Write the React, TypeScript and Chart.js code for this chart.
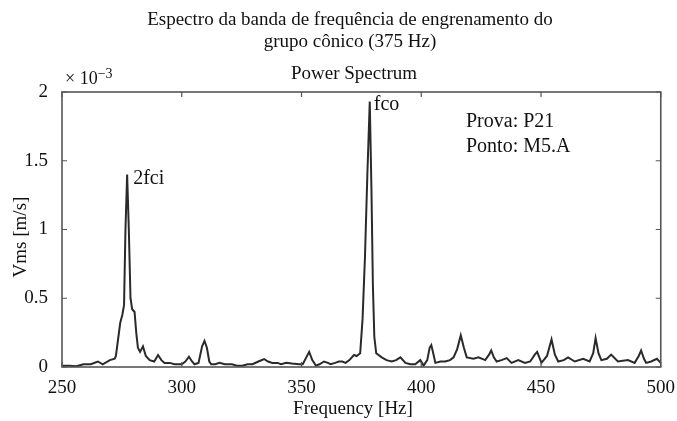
import React, { useEffect, useRef } from "react";
import { Chart, registerables } from "chart.js";

Chart.register(...registerables);

// ---- Data (Vms in units of 1e-3 m/s) ----
const frequencyHz = [
  250, 253, 256, 259, 262, 265, 267, 270, 272, 272.5, 273.4, 274.3, 275.2, 275.9, 276.5, 277.2, 277.9,
  278.6, 279.3, 280.3, 281, 281.7, 282.6, 283.8, 285, 286.6, 288.5, 290.1, 291.5, 292.8, 295, 297, 300,
  301.5, 303, 304.3, 305.3, 307, 308.5, 309.5, 310.5, 311.5, 312.3, 314, 315.7, 318, 321, 323, 325.3,
  327.5, 329.5, 332, 334.4, 336, 337.8, 340, 341.5, 343.6, 346, 349, 350.5, 352, 353.2, 354.5, 356,
  357.5, 359.4, 361, 362.2, 364, 365.6, 367, 368.4, 370, 371.9, 373, 374.5, 375.5, 376.5, 377.5, 378.5,
  379.2, 379.8, 380.4, 381.2, 383.5, 385.5, 387.7, 389.5, 391.3, 393.4, 395.5, 397.5, 399.6,
  401, 402.5, 403.5, 404.2, 405, 405.9, 408, 410, 412, 413.5, 415, 416.5, 417.8, 419, 421.8, 423.9,
  426.7, 428.3, 429.2, 430.3, 431.5, 433.5, 435.7, 437.7, 440.5, 443.3, 445.5, 447.4, 448.4, 449.3,
  450.2, 452.5, 454.4, 455.8, 457.2, 459.5, 461.3, 464.1, 467.6, 470.3, 471.8, 472.8, 474, 475.2,
  477.5, 479.3, 482.1, 486.3, 489.1, 490.8, 491.8, 493, 493.9, 496, 498.4, 500,
];
const vmsE3 = [
  0.01, 0.01, 0.005, 0.02, 0.02, 0.04, 0.02, 0.05, 0.06, 0.08, 0.2, 0.32, 0.38, 0.45, 1.0, 1.4, 1.0,
  0.5, 0.42, 0.4, 0.25, 0.14, 0.11, 0.15, 0.08, 0.05, 0.04, 0.087, 0.05, 0.03, 0.03, 0.02, 0.02,
  0.04, 0.075, 0.04, 0.02, 0.03, 0.15, 0.19, 0.14, 0.04, 0.02, 0.02, 0.03, 0.02, 0.02, 0.01, 0.01,
  0.02, 0.02, 0.04, 0.058, 0.04, 0.03, 0.03, 0.02, 0.03, 0.025, 0.02, 0.02, 0.07, 0.11, 0.05, 0.01,
  0.02, 0.04, 0.03, 0.02, 0.03, 0.04, 0.04, 0.03, 0.05, 0.087, 0.08, 0.1, 0.35, 0.8, 1.4, 1.93,
  1.3, 0.6, 0.22, 0.1, 0.07, 0.05, 0.04, 0.05, 0.07, 0.03, 0.02, 0.02, 0.05,
  0.01, 0.05, 0.14, 0.16, 0.1, 0.03, 0.04, 0.04, 0.05, 0.07, 0.13, 0.23, 0.14, 0.07, 0.06, 0.07,
  0.05, 0.09, 0.12, 0.07, 0.04, 0.05, 0.065, 0.03, 0.05, 0.03, 0.04, 0.09, 0.11, 0.07,
  0.03, 0.08, 0.2, 0.09, 0.04, 0.05, 0.07, 0.04, 0.06, 0.04, 0.1, 0.21, 0.1, 0.05,
  0.06, 0.09, 0.04, 0.05, 0.03, 0.08, 0.12, 0.06, 0.03, 0.04, 0.06, 0.03,
];

const xTicks = [250, 300, 350, 400, 450, 500];
const yTicks = [0, 0.5, 1, 1.5, 2];
const titleLines = ["Espectro da banda de frequência de engrenamento do", "grupo cônico (375 Hz)"];
const subtitleText = "Power Spectrum";
const xAxisLabel = "Frequency [Hz]";
const yAxisLabel = "Vms [m/s]";
const exponentBase = "× 10";
const exponentPower = "−3";
const peakNames = ["2fci", "fco"];
const peakFreqs = [277.2, 378.5];
const peakValues = [1.4, 1.93];
const infoLines = ["Prova: P21", "Ponto: M5.A"];

const FONT = "'Liberation Serif', 'Times New Roman', serif";

const decorPlugin = {
  id: "decor",
  afterDraw(chart: any) {
    const { ctx, chartArea } = chart;
    const xs = chart.scales.x;
    const ys = chart.scales.y;
    const { left, right, top, bottom } = chartArea;
    ctx.save();
    // frame
    ctx.strokeStyle = "#555";
    ctx.lineWidth = 1.6;
    ctx.strokeRect(left, top, right - left, bottom - top);
    // inward ticks
    ctx.lineWidth = 1.2;
    ctx.beginPath();
    xTicks.forEach((v) => {
      const px = xs.getPixelForValue(v);
      ctx.moveTo(px, bottom);
      ctx.lineTo(px, bottom - 5);
      ctx.moveTo(px, top);
      ctx.lineTo(px, top + 5);
    });
    yTicks.forEach((v) => {
      const py = ys.getPixelForValue(v);
      ctx.moveTo(left, py);
      ctx.lineTo(left + 5, py);
      ctx.moveTo(right, py);
      ctx.lineTo(right - 5, py);
    });
    ctx.stroke();

    ctx.fillStyle = "#111";
    ctx.textBaseline = "middle";
    // titles
    ctx.textAlign = "center";
    ctx.font = `19px ${FONT}`;
    ctx.fillText(titleLines[0], 350, 20);
    ctx.fillText(titleLines[1], 350, 42);
    ctx.fillText(subtitleText, 354, 74);
    // axis titles
    ctx.fillText(xAxisLabel, 353, 409);
    ctx.save();
    ctx.translate(21, 237);
    ctx.rotate(-Math.PI / 2);
    ctx.fillText(yAxisLabel, 0, 0);
    ctx.restore();
    // exponent
    ctx.textAlign = "left";
    ctx.font = `18px ${FONT}`;
    ctx.fillText(exponentBase, 65, 79);
    const w = ctx.measureText(exponentBase).width;
    ctx.font = `14px ${FONT}`;
    ctx.fillText(exponentPower, 65 + w, 74);
    // peak labels
    ctx.font = `20px ${FONT}`;
    const offs = [
      [6, 4],
      [4, 3],
    ];
    peakNames.forEach((name, i) => {
      const px = xs.getPixelForValue(peakFreqs[i]);
      const py = ys.getPixelForValue(peakValues[i]);
      ctx.fillText(name, px + offs[i][0], py + offs[i][1]);
    });
    // info
    infoLines.forEach((t, i) => ctx.fillText(t, 466, 122 + i * 25));
    ctx.restore();
  },
};

export default function App() {
  const ref = useRef<HTMLCanvasElement | null>(null);
  useEffect(() => {
    document.body.style.margin = "0";
    const canvas = ref.current;
    if (!canvas) return;
    const chart = new Chart(canvas, {
      type: "line",
      data: {
        datasets: [
          {
            data: frequencyHz.map((f, i) => ({ x: f, y: vmsE3[i] })),
            borderColor: "#2a2a2a",
            borderWidth: 2,
            pointRadius: 0,
            tension: 0,
            fill: false,
          },
        ],
      },
      options: {
        animation: false,
        responsive: true,
        maintainAspectRatio: false,
        devicePixelRatio: 1,
        layout: { padding: { left: 0, top: 92, right: 14, bottom: 0 } },
        plugins: { legend: { display: false }, tooltip: { enabled: false }, title: { display: false } },
        scales: {
          x: {
            type: "linear",
            min: 250,
            max: 500,
            grid: { display: false },
            border: { display: false },
            afterFit: (s: any) => {
              s.height = 54;
            },
            afterBuildTicks: (s: any) => {
              s.ticks = xTicks.map((v) => ({ value: v }));
            },
            ticks: {
              padding: 2,
              maxRotation: 0,
              autoSkip: false,
              color: "#111",
              font: { family: FONT, size: 19 },
              callback: (v: any) => String(v),
            },
          },
          y: {
            type: "linear",
            min: 0,
            max: 2,
            grid: { display: false },
            border: { display: false },
            afterFit: (s: any) => {
              s.width = 62;
            },
            afterBuildTicks: (s: any) => {
              s.ticks = yTicks.map((v) => ({ value: v }));
            },
            ticks: {
              padding: 6,
              color: "#111",
              font: { family: FONT, size: 19 },
              callback: (v: any) => String(v),
            },
          },
        },
      },
      plugins: [decorPlugin],
    });
    return () => chart.destroy();
  }, []);
  return (
    <div style={{ position: "absolute", left: 0, top: 0, width: 677, height: 421, background: "#fff" }}>
      <canvas ref={ref} />
    </div>
  );
}
